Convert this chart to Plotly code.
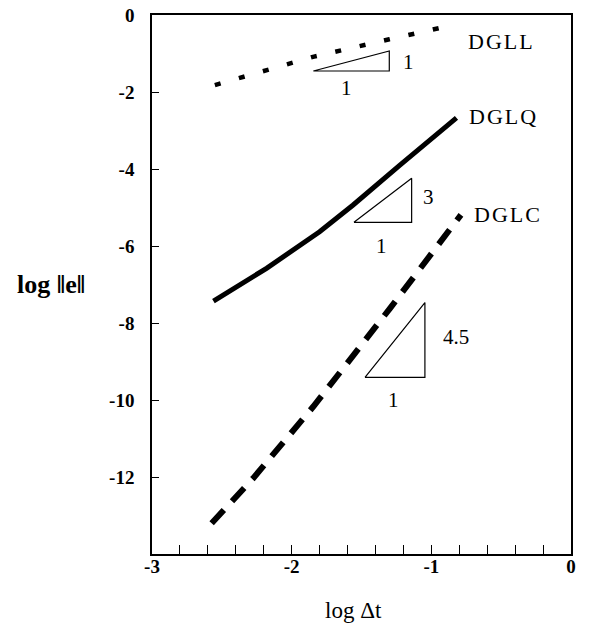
import plotly.graph_objects as go

# --- data ---
dgll_x = [-2.55, -2.20, -1.84, -1.30, -0.82]
dgll_y = [-1.82, -1.45, -1.08, -0.63, -0.24]

dglq_x = [-2.56, -2.18, -1.80, -1.56, -1.225, -0.985, -0.82]
dglq_y = [-7.43, -6.58, -5.63, -4.935, -3.90, -3.16, -2.67]

dglc_x = [-2.573, -2.275, -1.845, -1.296, -0.788]
dglc_y = [-13.20, -12.03, -10.17, -7.62, -5.19]

series_names = ["DGLL", "DGLQ", "DGLC"]
label_pos_x = [-0.755, -0.748, -0.712]
label_pos_y = [-0.69, -2.64, -5.18]

# slope triangles: left x, bottom y, run, rise, rise label, run label
tri_x0 = [-1.845, -1.554, -1.475]
tri_y0 = [-1.455, -5.385, -9.41]
tri_run = [0.544, 0.413, 0.429]
tri_rise = [0.52, 1.145, 1.94]
tri_rise_text = ["1", "3", "4.5"]
tri_run_text = ["1", "1", "1"]
rise_lab_x = [-1.167, -1.022, -0.824]
rise_lab_y = [-1.22, -4.72, -8.37]
run_lab_x = [-1.604, -1.356, -1.272]
run_lab_y = [-1.90, -6.00, -10.00]

x_ticks = [-3, -2, -1, 0]
y_ticks = [0, -2, -4, -6, -8, -10, -12]

SERIF = "Liberation Serif, Times New Roman, DejaVu Serif, serif"

fig = go.Figure()
fig.add_trace(go.Scatter(x=dgll_x, y=dgll_y, mode="lines",
                         line=dict(color="black", width=4.5, dash="6px,19px"),
                         showlegend=False, hoverinfo="skip"))
fig.add_trace(go.Scatter(x=dglq_x, y=dglq_y, mode="lines",
                         line=dict(color="black", width=5),
                         showlegend=False, hoverinfo="skip"))
fig.add_trace(go.Scatter(x=dglc_x, y=dglc_y, mode="lines",
                         line=dict(color="black", width=6, dash="18px,12px"),
                         showlegend=False, hoverinfo="skip"))

for i in range(3):
    x0, y0, r, h = tri_x0[i], tri_y0[i], tri_run[i], tri_rise[i]
    fig.add_trace(go.Scatter(x=[x0, x0 + r, x0 + r, x0], y=[y0, y0, y0 + h, y0],
                             mode="lines", line=dict(color="black", width=1.2),
                             showlegend=False, hoverinfo="skip"))
    fig.add_annotation(x=rise_lab_x[i], y=rise_lab_y[i], text=tri_rise_text[i],
                       showarrow=False, font=dict(family=SERIF, size=21, color="black"))
    fig.add_annotation(x=run_lab_x[i], y=run_lab_y[i], text=tri_run_text[i],
                       showarrow=False, font=dict(family=SERIF, size=21, color="black"))

for name, lx, ly in zip(series_names, label_pos_x, label_pos_y):
    fig.add_annotation(x=lx, y=ly, text='<span style="letter-spacing:2px">' + name + '</span>',
                       showarrow=False, xanchor="left",
                       font=dict(family=SERIF, size=22, color="black"))

# axis titles
fig.add_annotation(xref="paper", yref="paper", x=0.482, y=-0.104, yanchor="middle",
                   text="log Δt", showarrow=False,
                   font=dict(family=SERIF, size=23, color="black"))
fig.add_annotation(xref="paper", yref="paper", x=-0.327, y=0.50, xanchor="left",
                   yanchor="middle", text="log ‖e‖", showarrow=False,
                   font=dict(family=SERIF, size=26, color="black", weight="bold"))

fig.update_layout(
    width=591, height=623,
    margin=dict(l=152, r=20, t=15, b=69),
    paper_bgcolor="white", plot_bgcolor="white",
    showlegend=False,
    font=dict(family=SERIF),
)
fig.update_xaxes(range=[-3, 0], tickvals=x_ticks, ticktext=[str(v) for v in x_ticks],
                 ticks="inside", ticklen=9, tickwidth=1.2, tickcolor="black",
                 minor=dict(dtick=0.2, ticks="inside", ticklen=9, tickwidth=1.2, tickcolor="black"),
                 showline=True, linecolor="black", linewidth=1.5, mirror=True,
                 showgrid=False, zeroline=False, ticklabelstandoff=-6, automargin=False,
                 tickfont=dict(family=SERIF, size=19, color="black", weight="bold"))
fig.update_yaxes(range=[-14, 0], tickvals=y_ticks, ticktext=[str(v) for v in y_ticks],
                 ticks="inside", ticklen=7, tickwidth=1.2, tickcolor="black",
                 showline=True, linecolor="black", linewidth=1.5, mirror=True,
                 showgrid=False, zeroline=False, ticklabelstandoff=12, automargin=False,
                 tickfont=dict(family=SERIF, size=19, color="black", weight="bold"))

fig.write_html("out.html", config={"displayModeBar": False},
               post_script="document.body.style.margin='0';")
